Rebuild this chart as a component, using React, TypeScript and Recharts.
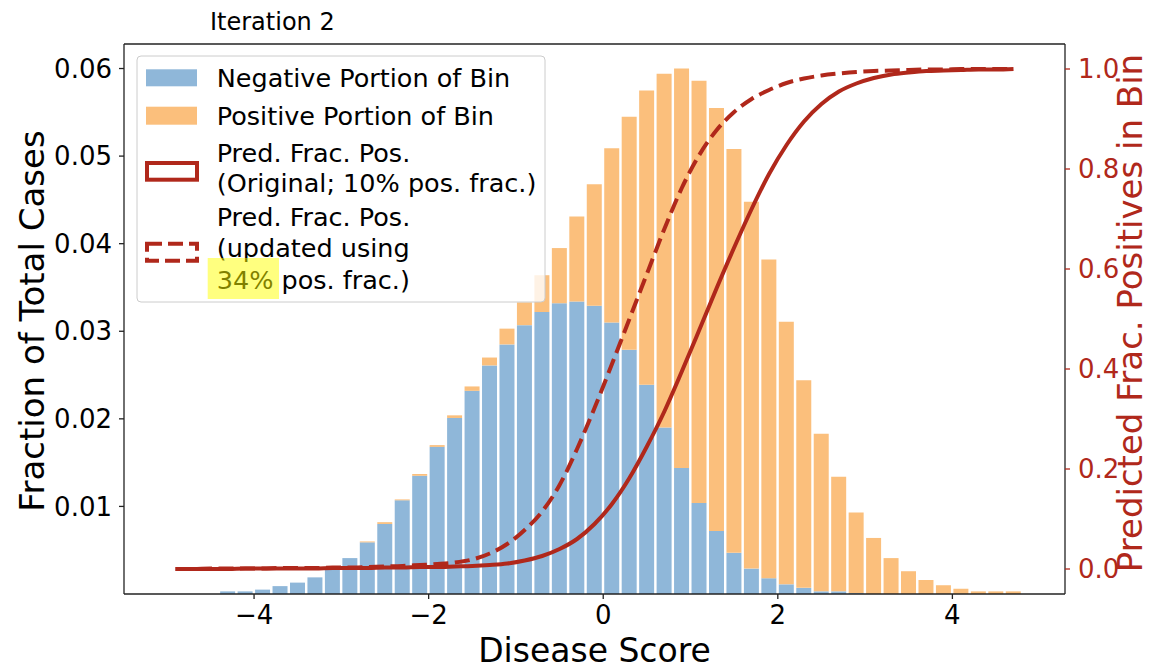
import React from 'react'
import { ComposedChart, Bar, Line, XAxis, YAxis, ReferenceLine } from 'recharts'

// bin centres (bin width 0.2)
const scores = [
  -4.9, -4.7, -4.5, -4.3, -4.1, -3.9, -3.7, -3.5, -3.3, -3.1,
  -2.9, -2.7, -2.5, -2.3, -2.1, -1.9, -1.7, -1.5, -1.3, -1.1,
  -0.9, -0.7, -0.5, -0.3, -0.1, 0.1, 0.3, 0.5, 0.7, 0.9,
  1.1, 1.3, 1.5, 1.7, 1.9, 2.1, 2.3, 2.5, 2.7, 2.9,
  3.1, 3.3, 3.5, 3.7, 3.9, 4.1, 4.3, 4.5, 4.7,
]

const negative = [
  0, 0, 0, 0.0003, 0.0003, 0.0005, 0.0009, 0.0013, 0.0019, 0.0029,
  0.0041, 0.0059, 0.008, 0.0107, 0.0135, 0.0168, 0.0201, 0.0232, 0.0261, 0.0285,
  0.0307, 0.0322, 0.0332, 0.0334, 0.0329, 0.031, 0.0279, 0.0239, 0.019, 0.0144,
  0.0104, 0.0072, 0.0047, 0.0029, 0.0018, 0.0011, 0.0007, 0.0003, 0.0003, 0.0001,
  0, 0, 0, 0, 0, 0, 0, 0, 0,
]

const positive = [
  0, 0, 0, 0, 0, 0, 0, 0, 0, 0,
  0, 0.0001, 0.0002, 0.0001, 0.0002, 0.0002, 0.0003, 0.0005, 0.0009, 0.0018,
  0.0026, 0.0042, 0.0063, 0.0097, 0.0139, 0.0199, 0.0266, 0.0336, 0.0404, 0.0456,
  0.0482, 0.0483, 0.0461, 0.0419, 0.0364, 0.03, 0.0237, 0.018, 0.0131, 0.0092,
  0.0064, 0.0041, 0.0026, 0.0016, 0.001, 0.0006, 0.0003, 0.0003, 0.0003,
]

const predOriginal = [
  0, 0, 0, 0, 0.001, 0.001, 0.001, 0.001, 0.001, 0.002,
  0.002, 0.002, 0.003, 0.003, 0.004, 0.004, 0.005, 0.006, 0.008, 0.011,
  0.017, 0.026, 0.04, 0.06, 0.09, 0.13, 0.182, 0.245, 0.315, 0.395,
  0.478, 0.562, 0.643, 0.72, 0.79, 0.848, 0.895, 0.93, 0.955, 0.971,
  0.982, 0.989, 0.993, 0.996, 0.997, 0.998, 0.999, 0.999, 1.0,
]

const predUpdated = [
  0, 0, 0.001, 0.001, 0.001, 0.001, 0.002, 0.002, 0.002, 0.003,
  0.003, 0.004, 0.005, 0.006, 0.008, 0.01, 0.013, 0.019, 0.031, 0.05,
  0.078, 0.115, 0.168, 0.24, 0.322, 0.41, 0.5, 0.59, 0.68, 0.762,
  0.828, 0.878, 0.914, 0.94, 0.958, 0.972, 0.981, 0.987, 0.991, 0.994,
  0.996, 0.997, 0.998, 0.999, 0.999, 1.0, 1.0, 1.0, 1.0,
]

const xTicks = [-4, -2, 0, 2, 4]
const leftTicks = [0.01, 0.02, 0.03, 0.04, 0.05, 0.06]
const rightTicks = [0, 0.2, 0.4, 0.6, 0.8, 1.0]

const data = scores.map((s, i) => ({
  score: s,
  neg: negative[i],
  pos: positive[i],
  orig: predOriginal[i],
  upd: predUpdated[i],
}))

const RED = '#b0281b'
const BLUE = '#8fb7d9'
const ORANGE = '#fbbf7c'
const FONT = 'DejaVu Sans, Verdana, sans-serif'

const fmtX = (v: number) => (v < 0 ? `\u2212${-v}` : `${v}`)

const LegendBox = () => (
  <svg
    width={411}
    height={249}
    style={{ position: 'absolute', left: 128, top: 47, overflow: 'visible' }}
    fontFamily={FONT}
    fontSize={25.5}
  >
    <rect x={1} y={1} width={408} height={246} rx={4} fill="#fff" fillOpacity={0.8} stroke="#cccccc" />
    <rect x={10} y={14.3} width={51} height={17} fill={BLUE} />
    <text x={80.7} y={32}>Negative Portion of Bin</text>
    <rect x={10} y={51.7} width={51} height={18} fill={ORANGE} />
    <text x={80.7} y={70}>Positive Portion of Bin</text>
    <rect x={11} y={108} width={50} height={16.7} fill="none" stroke={RED} strokeWidth={4} />
    <text x={80.7} y={107}>Pred. Frac. Pos.</text>
    <text x={80.7} y={137}>(Original; 10% pos. frac.)</text>
    <rect x={11} y={188.7} width={50} height={17} fill="none" stroke={RED} strokeWidth={4} strokeDasharray="15 6" />
    <text x={80.7} y={171}>Pred. Frac. Pos.</text>
    <text x={80.7} y={202}>(updated using</text>
    <text x={80.7} y={234}>34% pos. frac.)</text>
    <rect x={71.7} y={203} width={71.3} height={41} fill="#ffff00" fillOpacity={0.5} />
  </svg>
)

const App: React.FC = () => {
  return (
    <div style={{ position: 'relative', width: 1137, height: 655, fontFamily: FONT }}>
      <ComposedChart
        width={1137}
        height={655}
        data={data}
        margin={{ top: 36, right: 0, bottom: 0, left: 0 }}
        style={{ overflow: 'visible' }}
      >
        <XAxis
          dataKey="score"
          type="number"
          domain={[-5.49, 5.29]}
          allowDataOverflow
          ticks={xTicks}
          tickFormatter={fmtX}
          height={69}
          tickSize={5}
          tickMargin={7}
          tick={{ fontSize: 26, fill: '#000', fontFamily: FONT }}
          tickLine={{ stroke: '#222', strokeWidth: 1.3 }}
          axisLine={{ stroke: '#222', strokeWidth: 1.3 }}
        />
        <YAxis
          yAxisId="left"
          width={116}
          domain={[0, 0.0628]}
          allowDataOverflow
          ticks={leftTicks}
          tickFormatter={(v: number) => v.toFixed(2)}
          tickSize={5}
          tickMargin={7}
          tick={{ fontSize: 26, fill: '#000', fontFamily: FONT }}
          tickLine={{ stroke: '#222', strokeWidth: 1.3 }}
          axisLine={{ stroke: '#222', strokeWidth: 1.3 }}
        />
        <YAxis
          yAxisId="right"
          orientation="right"
          width={80}
          domain={[-0.05, 1.05]}
          allowDataOverflow
          ticks={rightTicks}
          tickFormatter={(v: number) => v.toFixed(1)}
          tickSize={5}
          tickMargin={8}
          tick={{ fontSize: 26, fill: RED, fontFamily: FONT }}
          tickLine={{ stroke: RED, strokeWidth: 1.3 }}
          axisLine={{ stroke: '#222', strokeWidth: 1.3 }}
        />
        <ReferenceLine yAxisId="right" y={1.05} stroke="#222" strokeWidth={1.3} />
        <Bar yAxisId="left" dataKey="neg" stackId="h" fill={BLUE} barSize={15} isAnimationActive={false} />
        <Bar yAxisId="left" dataKey="pos" stackId="h" fill={ORANGE} barSize={15} isAnimationActive={false} />
        <Line
          yAxisId="right"
          dataKey="orig"
          type="monotone"
          stroke={RED}
          strokeWidth={4}
          dot={false}
          isAnimationActive={false}
        />
        <Line
          yAxisId="right"
          dataKey="upd"
          type="monotone"
          stroke={RED}
          strokeWidth={4}
          strokeDasharray="15 6.5"
          dot={false}
          isAnimationActive={false}
        />
      </ComposedChart>

      <div style={{ position: 'absolute', left: 202, top: 0, fontSize: 24, lineHeight: '28px', color: '#000', whiteSpace: 'nowrap' }}>
        Iteration 2
      </div>
      <div
        style={{
          position: 'absolute', left: 24, top: 313, fontSize: 34, lineHeight: 1, color: '#000', whiteSpace: 'nowrap',
          transform: 'translate(-50%, -50%) rotate(-90deg)',
        }}
      >
        Fraction of Total Cases
      </div>
      <div
        style={{
          position: 'absolute', left: 1123, top: 305, fontSize: 34, lineHeight: 0.8, color: RED, whiteSpace: 'nowrap',
          transform: 'translate(-50%, -50%) rotate(-90deg)',
        }}
      >
        Predicted Frac. Positives in Bin
      </div>
      <div
        style={{
          position: 'absolute', left: 586.5, top: 643, fontSize: 33, lineHeight: 0.7, color: '#000', whiteSpace: 'nowrap',
          transform: 'translate(-50%, -50%)',
        }}
      >
        Disease Score
      </div>
      <LegendBox />
    </div>
  )
}

export default App
